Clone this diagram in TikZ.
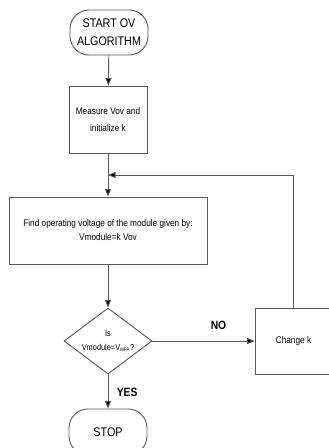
\documentclass[tikz,border=0pt]{standalone}
\usepackage{fontspec}
\setmainfont{Liberation Sans}
\newfontfamily\narrowfont[FakeStretch=0.86]{Liberation Sans}
\usetikzlibrary{shapes.geometric,arrows.meta}
\begin{document}
\begin{tikzpicture}[x=1pt,y=-1pt,
  line/.style={draw=black!65,line width=0.9pt},
  arr/.style={line,-{Triangle[length=7.5pt,width=6pt,fill=black]}},
  term/.style={line,rectangle,rounded corners=19pt,inner sep=0pt,align=center,font=\narrowfont\fontsize{12.5}{18}\selectfont},
  procbox/.style={line,rectangle,inner sep=0pt,align=center,font=\narrowfont\fontsize{9.6}{14}\selectfont},
  decbox/.style={line,diamond,inner sep=0pt},
  lbl/.style={font=\narrowfont\bfseries\fontsize{12}{13}\selectfont}]
\useasboundingbox (0,0) rectangle (329,448);
\clip (0,0) rectangle (329,448);
\fill[white] (0,0) rectangle (329,448);
\node[term,minimum width=78pt,minimum height=45pt] (start) at (109,32.5) {START OV\\ALGORITHM};
\node[procbox,minimum width=78pt,minimum height=67pt] (measure) at (108,119.5) {Measure Vov and\\[3pt]initialize k};
\node[procbox,minimum width=198pt,minimum height=67pt] (find) at (108,230.5) {Find operating voltage of the module given by:\\Vmodule=k Vov};
\node[decbox,minimum width=88pt,minimum height=66pt] (dec) at (108,341) {};
\node[font=\narrowfont\fontsize{8.6}{14}\selectfont,align=center,inner sep=0pt] (dectext) at (108,341) {Is\\Vmodule=V\textsubscript{\fontsize{5}{5}\selectfont MPP}?};
\node[procbox,minimum width=77pt,minimum height=66pt] (change) at (293.5,341) {Change k};
\node[term,minimum width=78pt,minimum height=46pt] (stop) at (108,432) {STOP};
\coordinate (j) at (108,175);
\draw[arr] (start) -- (measure);
\draw[arr] (measure) -- (find);
\draw[arr] (find) -- (dec);
\draw[arr] (dec) -- (change) node[lbl,midway,above=8pt,xshift=15pt] (no) {NO};
\draw[arr] (dec) -- (stop) node[lbl,midway,right=5pt,yshift=-1pt] (yes) {YES};
\draw[arr] (change.north) |- (j);
\end{tikzpicture}
\end{document}
